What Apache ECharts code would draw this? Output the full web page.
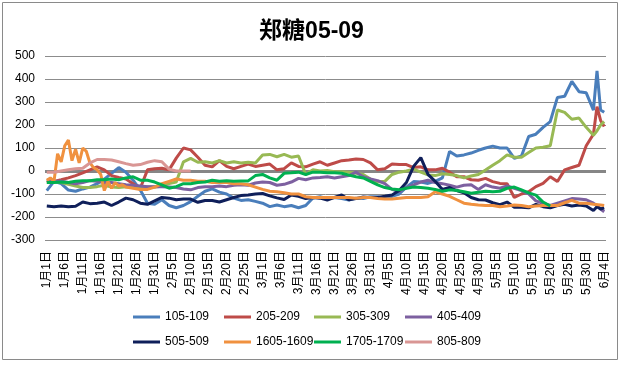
<!DOCTYPE html>
<html><head><meta charset="utf-8">
<script src="https://cdn.jsdelivr.net/npm/echarts@6/dist/echarts.min.js"></script>
<style>html,body{margin:0;padding:0;background:#fff}#c{width:623px;height:365px}</style>
</head><body><div id="c"></div>
<script>
// Calendar days 1月1日 .. 6月4日 (leap year)
const monthLengths = [[1,31],[2,29],[3,31],[4,30],[5,31],[6,4]];
const categories = [];
monthLengths.forEach(([m,n]) => { for (let d = 1; d <= n; d++) categories.push(m + '月' + d + '日'); });

const yTicks = { min: -300, max: 500, step: 100 };

// day indices at which values were read
const sampleDays = [0,2,4,6,8,10,12,14,16,18,20,22,24,26,28,30,32,34,36,38,40,42,44,46,48,50,52,54,56,58,60,62,64,66,68,70,72,74,76,78,80,82,84,86,88,90,92,94,96,98,100,102,104,106,108,110,112,114,116,118,120,122,124,126,128,130,132,134,136,138,140,142,144,146,148,150,152,153,154,155];
const days1605 = [0,1,2,3,4,5,6,7,8,9,10,11,12,13,14,15,16,17,18,19,20,21,22,24,26,28,30,32,34,36,38,40,42,44,46,48,50,52,54,56,58,60,62,64,66,68,70,72,74,76,78,80,82,84,86,88,90,92,94,96,98,100,102,104,106,108,110,112,114,116,118,120,122,124,126,128,130,132,134,136,138,140,142,144,146,148,150,152,154,155];

const s105 = [-85,-45,-55,-83,-88,-78,-70,-55,-35,-10, 15,-5,-40,-83,-140,-145,-125,-150,-160,-150, -133,-110,-88,-78,-92,-100,-118,-128,-125,-132, -140,-155,-148,-155,-150,-160,-150,-117,-112,-120, -115,-120,-126,-118,-120,-112,-112,-118,-110,-100, -70,-46,-48,-54,-45,-30,85,65,70,78, 90,100,108,100,100,55,65,150,160,190, 215,320,325,390,345,340,265,435,265,255];
const s205 = [-50,-45,-38,-30,-20,-8,5,18,5,-20, -28,-35,-55,-75,5,10,12,5,56,100, 92,60,25,18,45,20,10,20,30,20, 25,30,5,10,35,20,18,30,40,25, 35,45,48,52,50,35,5,10,30,28, 28,15,18,5,5,12,-5,-25,-25,-38, -40,-32,-46,-54,-55,-115,-100,-90,-68,-54, -25,-46,5,15,25,110,160,280,220,193];
const s305 = [-40,-45,-50,-58,-65,-72,-72,-68,-62,-70, -72,-68,-70,-72,-68,-70,-66,-55,-48,40, 55,38,40,35,45,35,40,35,38,35, 70,72,62,72,60,65,-15,5,0,2, -3,-3,-5,-10,-15,-35,-48,-45,-15,-5, 0,8,-5,-17,-20,-12,-15,-20,-30,-22, -15,4,25,45,70,60,60,80,100,103, 110,265,255,225,230,190,155,175,200,215];
const s405 = [-40,-45,-45,-50,-55,-50,-42,-45,-50,-50, -55,-60,-62,-65,-68,-68,-68,-70,-72,-78, -82,-72,-68,-68,-65,-68,-62,-60,-62,-52, -48,-50,-62,-58,-48,-32,-38,-30,-28,-25, -30,-25,-20,-5,-25,-35,-42,-55,-80,-90, -72,-60,-48,-40,-50,-55,-62,-70,-62,-60, -80,-60,-70,-75,-65,-75,-85,-100,-130,-140, -150,-140,-130,-120,-122,-125,-140,-150,-165,-177];
const s505 = [-152,-155,-152,-155,-153,-135,-142,-140,-135,-150, -135,-118,-125,-140,-145,-130,-115,-118,-125,-122, -122,-136,-128,-128,-135,-125,-115,-107,-104,-100, -98,-108,-117,-124,-104,-110,-120,-115,-118,-126, -115,-104,-125,-120,-113,-115,-115,-110,-104,-85, -50,20,58,-15,-45,-80,-72,-85,-95,-115, -125,-126,-138,-146,-135,-158,-158,-160,-145,-155, -160,-150,-145,-152,-148,-152,-172,-155,-165,-160];
const s1605 = [-40,-30,-45,75,40,110,135,45,95,35, 100,85,35,15,5,-15,-85,-45,-75,-50, -65,-60, -70,-75,-80,-80,-70,-55,-45,-35,-40,-40, -45,-45,-50,-50,-50,-55,-55,-60,-70,-80, -88,-90,-95,-100,-100,-112,-115,-115,-115,-115, -115,-115,-118,-115,-115,-120,-122,-122,-118,-115, -115,-115,-112,-90,-100,-110,-125,-140,-145,-148, -150,-150,-155,-152,-148,-150,-155,-152,-150,-150, -150,-138,-128,-140,-140,-145,-148,-150];
const s1705 = [-50,-50,-48,-50,-45,-42,-42,-38,-38,-35, -38,-30,-25,-40,-40,-48,-60,-75,-68,-55, -55,-50,-48,-40,-45,-42,-45,-43,-43,-20, -15,-30,-40,-10,-8,-5,-15,-5,-5,-8, -8,-10,-18,-25,-30,-45,-60,-72,-78,-82, -75,-70,-72,-75,-80,-88,-82,-85,-90,-97, -92,-88,-90,-88,-75,-70,-82,-95,-105,-135, -152];
const s805 = [-5,-5,0,5,10,12,35,50,50,48, 40,32,25,28,38,45,40,8,0,0, 0];

const seriesNames = ['105-109','205-209','305-309','405-409','505-509','1605-1609','1705-1709','805-809'];
const seriesColors = ['#4A7EBB','#BE4B48','#98B954','#7D60A0','#0F1F5A','#F0913F','#00B050','#D99694'];
const seriesVals = [s105,s205,s305,s405,s505,s1605,s1705,s805];
const seriesDays = [sampleDays,sampleDays,sampleDays,sampleDays,sampleDays,days1605,sampleDays,sampleDays];

const FONT = '"Liberation Sans","Noto Sans CJK SC",sans-serif';
const legendCols = [133, 224, 314, 405];
const legendRows = [311, 336];

const series = seriesNames.map((name, k) => ({
  name, type: 'line', showSymbol: false, symbol: 'none',
  data: seriesVals[k].map((v, j) => [seriesDays[k][j], v]),
  lineStyle: { width: 3, color: seriesColors[k] },
  itemStyle: { color: seriesColors[k] },
  z: 3 + k
}));
series[0].markLine = {
  silent: true, symbol: ['none','none'], label: { show: false },
  lineStyle: { color: '#868686', width: 3, type: 'solid' },
  data: [{ yAxis: 0 }], z: 2
};

const legends = seriesNames.map((name, k) => ({
  data: [{ name, icon: 'rect' }],
  left: legendCols[k % 4], top: legendRows[Math.floor(k / 4)],
  padding: 0, itemWidth: 27, itemHeight: 3,
  textStyle: { fontSize: 12, color: '#000', fontFamily: FONT }
}));

const chart = echarts.init(document.getElementById('c'), null, { renderer: 'canvas' });
chart.setOption({
  animation: false,
  backgroundColor: '#fff',
  title: {
    text: '郑糖05-09', left: 'center', top: 20, padding: 0,
    textStyle: { fontSize: 23, fontWeight: 'bold', color: '#000', fontFamily: FONT }
  },
  graphic: [{
    type: 'rect', shape: { x: 2.5, y: 2.5, width: 615, height: 357 },
    style: { fill: 'none', stroke: '#8a8a8a', lineWidth: 1 }, silent: true
  }],
  legend: legends,
  grid: { left: 45, right: 17, top: 56, bottom: 125, containLabel: false },
  xAxis: {
    type: 'category', data: categories, boundaryGap: true,
    axisLine: { show: false, onZero: false }, axisTick: { show: false },
    axisLabel: { rotate: 90, interval: 4, fontSize: 12, margin: 11, color: '#000', fontFamily: FONT },
    splitLine: { show: false }
  },
  yAxis: {
    type: 'value', min: yTicks.min, max: yTicks.max, interval: yTicks.step,
    axisLine: { show: false }, axisTick: { show: false },
    axisLabel: { fontSize: 12, margin: 10, color: '#000', fontFamily: FONT },
    splitLine: { lineStyle: { color: '#8c8c8c', width: 1 } }
  },
  series
});
</script></body></html>
